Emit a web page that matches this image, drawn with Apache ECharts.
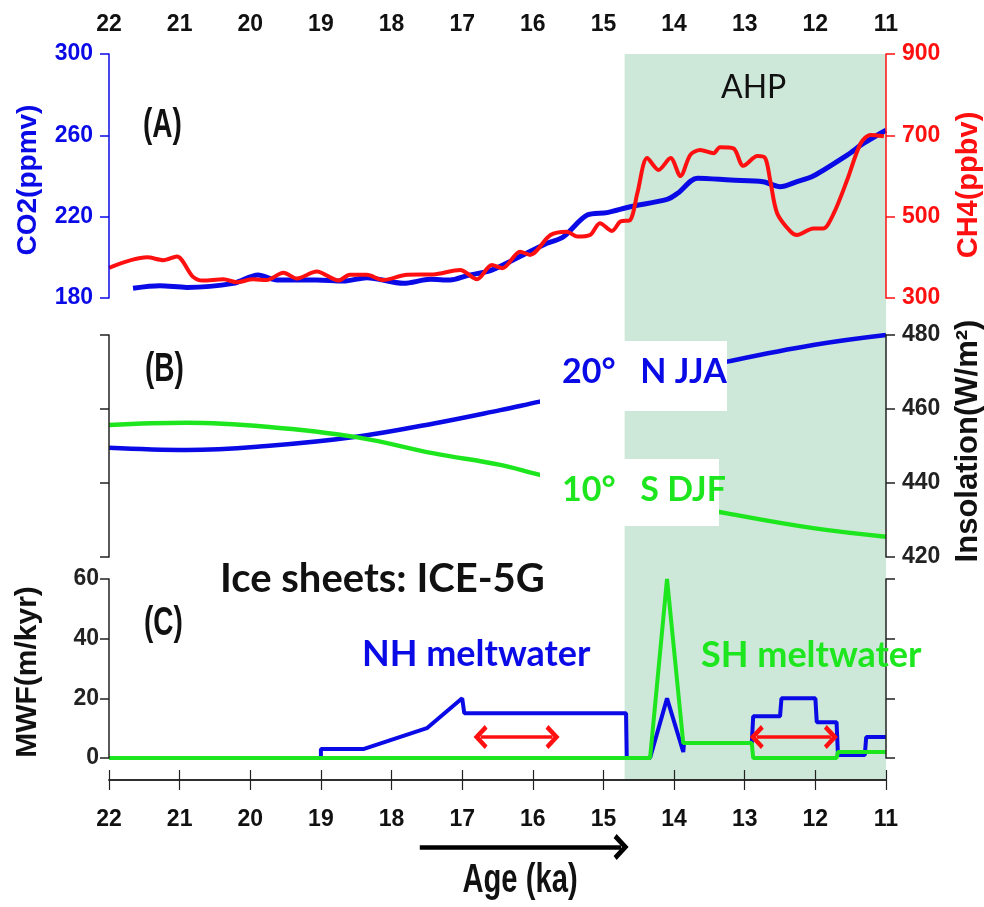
<!DOCTYPE html>
<html>
<head>
<meta charset="utf-8">
<script src="https://cdn.jsdelivr.net/npm/echarts@6/dist/echarts.min.js"></script>
<style>
html, body { margin: 0; padding: 0; background: #ffffff; }
#chart { width: 984px; height: 907px; }
</style>
</head>
<body>
<div id="chart"></div>
<script>
// ---------- data (age in ka BP) ----------
const ageRange = [11, 22];
const ageTicks = [22, 21, 20, 19, 18, 17, 16, 15, 14, 13, 12, 11];
const ahpSpan = [14.7, 11];

// (A) greenhouse gases
const co2Age = [21.66, 21.28, 20.9, 20.24, 19.89, 19.62, 19.06, 18.68, 18.35, 17.83, 17.45, 17.17, 16.93, 16.6, 16.28, 15.8, 15.57, 15.23, 14.95, 14.62, 14.1, 13.95, 13.67, 13.2, 12.74, 12.5, 12.26, 12.03, 11.55, 11.32, 11.0];
const co2Val = [184.8, 186, 185.2, 187.2, 191.3, 188.8, 188.8, 188.3, 190, 187.2, 189.2, 188.8, 191, 193.5, 198.7, 206.9, 210, 220.8, 222, 224.9, 228.5, 231.5, 238.9, 238, 237.2, 234.7, 237.2, 240, 250.3, 256, 262.5];

const ch4Age = [22.0, 21.46, 21.23, 21.04, 20.81, 20.67, 20.38, 20.19, 19.96, 19.77, 19.53, 19.34, 19.06, 18.75, 18.59, 18.35, 18.12, 17.78, 17.41, 17.03, 16.79, 16.58, 16.43, 16.18, 16.04, 15.75, 15.52, 15.37, 15.19, 15.05, 14.88, 14.76, 14.62, 14.52, 14.38, 14.22, 14.05, 13.91, 13.77, 13.63, 13.44, 13.35, 13.16, 13.02, 12.82, 12.71, 12.64, 12.54, 12.35, 12.26, 12.03, 11.89, 11.74, 11.55, 11.36, 11.22, 11.03];
const ch4Val = [374, 400, 393, 402, 352, 343, 346, 339, 346, 344, 362, 348, 365, 343, 357, 357, 344, 357, 358, 369, 346, 381, 373, 414, 406, 455, 463, 451, 455, 484, 465, 488, 492, 558, 644, 615, 644, 600, 652, 664, 656, 671, 668, 625, 649, 644, 590, 508, 463, 455, 471, 471, 508, 590, 680, 701, 698];

// (B) insolation
const insAge = [22, 20.9, 19.77, 18.5, 17.4, 16.46, 15.9, 14.5, 13.25, 12.03, 11];
const insN20JJA = [449.5, 448.9, 450, 452.5, 456.1, 459.7, 462, 467.5, 472.8, 477.3, 480];
const insS10DJF = [455.7, 456.3, 455.2, 452.4, 448, 444.9, 442.2, 436.5, 431.8, 427.8, 425.5];

// (C) meltwater flux
const nhAge = [22, 19.0, 19.0, 18.4, 17.5, 17.0, 16.97, 14.68, 14.67, 14.34, 14.1, 13.87, 13.86, 12.9, 12.88, 12.5, 12.48, 12.0, 11.98, 11.7, 11.68, 11.3, 11.28, 11.0];
const nhVal = [0, 0, 3, 3, 10, 20, 15, 15, 0, 0, 20, 2, 5, 5, 14, 14, 20, 20, 12, 12, 1, 1, 7, 7];
const shAge = [22, 14.34, 14.1, 13.87, 12.9, 12.88, 11.7, 11.68, 11.0];
const shVal = [0, 0, 60, 5, 5, 0, 0, 2, 2];

// annotation arrows
const nhArrow = [16.74, 15.72];
const shArrow = [12.83, 11.78];
const arrowLevel = 7;
const timeArrow = [17.6, 14.75];

// ---------- styling ----------
const BLUE = '#0a0ae6';
const RED = '#ff1010';
const GREEN = '#1ee61e';
const SHADE = '#cde7d9';
const narrow = '"Liberation Sans Narrow", "Arial Narrow", "Liberation Sans", sans-serif';
const sans = '"Liberation Sans", Arial, sans-serif';
const calib = 'Lato, "Open Sans", sans-serif';

const pairs = (xs, ys) => xs.map((x, i) => [x, ys[i]]);
const tickLabel = (color, margin) => ({
  color, fontFamily: narrow, fontWeight: 'bold', fontSize: 23, margin
});

const box = { left: 109, right: 98 };
const xBase = (grid, extra) => Object.assign({
  type: 'value', gridIndex: grid, min: ageRange[0], max: ageRange[1], inverse: true,
  interval: 1, show: false
}, extra || {});

const yAxisStyle = (grid, pos, min, max, interval, color, showLabels, margin) => ({
  type: 'value', gridIndex: grid, position: pos, min, max, interval,
  axisLine: { show: true, lineStyle: { color, width: 1.5 } },
  axisTick: { show: true, inside: false, length: 9, lineStyle: { color, width: 1.5 } },
  axisLabel: showLabels ? tickLabel(color, margin) : { show: false },
  splitLine: { show: false },
  z: 5
});

const caret = 'path://M0,20 L20,0 L40,20 L34,25 L20,11 L6,25 Z';

// condensed bold tag drawn with a horizontal squeeze
const tag = (text, x, y, size, squeeze, align) => ({
  type: 'text', z: 100, x, y, scaleX: squeeze,
  style: { text, fill: '#111', font: 'bold ' + size + 'px ' + sans, align: align || 'left', verticalAlign: 'middle' }
});
const vTitle = (text, x, y, size, color) => ({
  type: 'text', z: 100, x, y, rotation: Math.PI / 2,
  style: { text, fill: color, font: 'bold ' + size + 'px ' + sans, align: 'center', verticalAlign: 'middle' }
});

const chart = echarts.init(document.getElementById('chart'), null, { renderer: 'canvas' });

const option = {
  animation: false,
  backgroundColor: '#ffffff',
  grid: [
    Object.assign({ top: 54, height: 726 }, box),  // full-height frame: shading + age axes
    Object.assign({ top: 54, height: 244 }, box),  // (A)
    Object.assign({ top: 335, height: 222 }, box), // (B)
    Object.assign({ top: 579, height: 179 }, box), // (C)
    Object.assign({ top: 840, height: 14 }, box)   // time arrow strip
  ],
  xAxis: [
    xBase(0, {
      show: true, position: 'top',
      axisLine: { show: true, lineStyle: { color: '#222', width: 1.5 } },
      axisTick: { show: true, inside: false, length: 10, lineStyle: { color: '#222', width: 1.2 } },
      axisLabel: tickLabel('#111', 18),
      splitLine: { show: false }, z: 5
    }),
    xBase(0, {
      show: true, position: 'bottom',
      axisLine: { show: true, lineStyle: { color: '#222', width: 1.5 } },
      axisTick: { show: true, inside: false, length: 10, lineStyle: { color: '#222', width: 1.2 } },
      axisLabel: tickLabel('#111', 28),
      splitLine: { show: false }, z: 5
    }),
    xBase(1), xBase(2), xBase(3), xBase(4)
  ],
  yAxis: [
    { type: 'value', gridIndex: 0, min: 0, max: 1, show: false },
    yAxisStyle(1, 'left', 180, 300, 40, BLUE, true, 16),
    yAxisStyle(1, 'right', 300, 900, 200, RED, true, 16),
    yAxisStyle(2, 'left', 420, 480, 20, '#222', false),
    yAxisStyle(2, 'right', 420, 480, 20, '#222', true, 16),
    yAxisStyle(3, 'left', 0, 60, 20, '#222', true, 10),
    yAxisStyle(3, 'right', 0, 60, 20, '#222', false),
    { type: 'value', gridIndex: 4, min: 0, max: 1, show: false }
  ],
  series: [
    {
      name: 'AHP', type: 'line', xAxisIndex: 0, yAxisIndex: 0, data: [], z: -1, silent: true,
      markArea: {
        silent: true, itemStyle: { color: SHADE },
        data: [[{ xAxis: ahpSpan[0] }, { xAxis: ahpSpan[1] }]]
      }
    },
    {
      name: 'CO2', type: 'line', xAxisIndex: 2, yAxisIndex: 1, data: pairs(co2Age, co2Val),
      smooth: 0.3, symbol: 'none', lineStyle: { color: BLUE, width: 5 }, z: 3
    },
    {
      name: 'CH4', type: 'line', xAxisIndex: 2, yAxisIndex: 2, data: pairs(ch4Age, ch4Val),
      smooth: 0.3, symbol: 'none', lineStyle: { color: RED, width: 4 }, z: 4
    },
    {
      name: '20N JJA', type: 'line', xAxisIndex: 3, yAxisIndex: 4, data: pairs(insAge, insN20JJA),
      smooth: 0.4, symbol: 'none', lineStyle: { color: BLUE, width: 4.5 }, z: 3
    },
    {
      name: '10S DJF', type: 'line', xAxisIndex: 3, yAxisIndex: 4, data: pairs(insAge, insS10DJF),
      smooth: 0.4, symbol: 'none', lineStyle: { color: GREEN, width: 4.5 }, z: 3
    },
    {
      name: 'NH meltwater', type: 'line', xAxisIndex: 4, yAxisIndex: 5, data: pairs(nhAge, nhVal),
      symbol: 'none', lineStyle: { color: BLUE, width: 4 }, z: 3
    },
    {
      name: 'SH meltwater', type: 'line', xAxisIndex: 4, yAxisIndex: 5, data: pairs(shAge, shVal),
      symbol: 'none', lineStyle: { color: GREEN, width: 4 }, z: 4
    },
    {
      name: 'arrows', type: 'line', xAxisIndex: 4, yAxisIndex: 5, data: [], z: 6, silent: true,
      markLine: {
        silent: true, symbol: [caret, caret], symbolSize: [24, 14],
        label: { show: false },
        lineStyle: { color: RED, width: 3.5, type: 'solid' },
        data: [
          [{ coord: [nhArrow[0], arrowLevel] }, { coord: [nhArrow[1], arrowLevel] }],
          [{ coord: [shArrow[0], arrowLevel] }, { coord: [shArrow[1], arrowLevel] }]
        ]
      }
    },
    {
      name: 'time', type: 'line', xAxisIndex: 5, yAxisIndex: 7, data: [], silent: true,
      markLine: {
        silent: true, symbol: ['none', caret], symbolSize: [26, 15],
        label: { show: false },
        lineStyle: { color: '#000', width: 4.5, type: 'solid' },
        data: [[{ coord: [timeArrow[0], 0.5] }, { coord: [timeArrow[1], 0.5] }]]
      }
    }
  ],
  graphic: [
    // panel tags
    tag('(A)', 143, 126, 40, 0.7),
    tag('(B)', 145, 370, 40, 0.7),
    tag('(C)', 144, 624, 40, 0.7),
    { type: 'text', z: 100, left: 721, top: 72, style: { text: 'AHP', fill: '#111', font: '32px ' + calib } },
    // curve tags in (B) on white plates
    { type: 'rect', z: 90, shape: { x: 540, y: 341, width: 187, height: 70 }, style: { fill: '#ffffff' } },
    { type: 'rect', z: 90, shape: { x: 540, y: 459, width: 179, height: 67 }, style: { fill: '#ffffff' } },
    { type: 'text', z: 100, left: 562, top: 355, style: { text: '20°   N JJA', fill: BLUE, font: 'bold 34px ' + calib } },
    { type: 'text', z: 100, left: 562, top: 473, style: { text: '10°   S DJF', fill: GREEN, font: 'bold 34px ' + calib } },
    // (C) annotations
    { type: 'text', z: 100, left: 220, top: 559, style: { text: 'Ice sheets: ICE-5G', fill: '#111', font: 'bold 40px ' + calib } },
    { type: 'text', z: 100, left: 362, top: 636, style: { text: 'NH meltwater', fill: BLUE, font: 'bold 36px ' + calib } },
    { type: 'text', z: 100, left: 701, top: 637, style: { text: 'SH meltwater', fill: GREEN, font: 'bold 36px ' + calib } },
    // axis titles
    vTitle('CO2(ppmv)', 28, 180, 28, BLUE),
    vTitle('CH4(ppbv)', 969, 185, 29, RED),
    vTitle('Insolation(W/m²)', 968, 441, 31, '#111'),
    vTitle('MWF(m/kyr)', 28, 672, 30, '#111'),
    tag('Age (ka)', 520, 881, 40, 0.73, 'center')
  ]
};

chart.setOption(option);
</script>
</body>
</html>
